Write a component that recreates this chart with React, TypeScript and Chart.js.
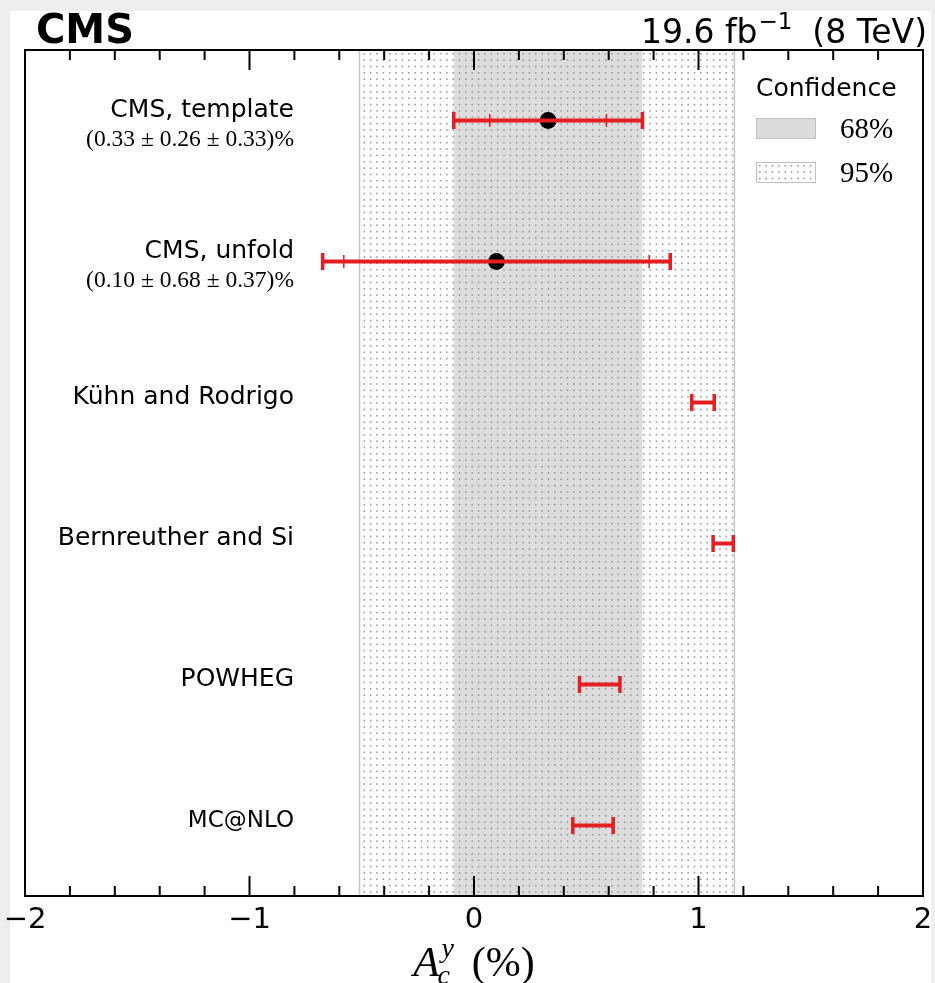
import React, { useEffect, useRef } from "react";
import { Chart, registerables } from "chart.js";

Chart.register(...registerables);

// ---------------- data ----------------
const rowLabels = ["CMS, template", "CMS, unfold", "Kühn and Rodrigo", "Bernreuther and Si", "POWHEG", "MC@NLO"];
const resultTexts = ["(0.33 ± 0.26 ± 0.33)%", "(0.10 ± 0.68 ± 0.37)%", "", "", "", ""];
const centralValues = [0.33, 0.1, 1.02, 1.11, 0.56, 0.53];
const statErrors = [0.26, 0.68, 0, 0, 0, 0];
const systErrors = [0.33, 0.37, 0, 0, 0, 0];
const theoryErrors = [0, 0, 0.05, 0.045, 0.09, 0.09];
const isMeasurement = [true, true, false, false, false, false];
const band68 = [-0.09, 0.75];
const band95 = [-0.51, 1.16];
const xTickValues = [-2, -1, 0, 1, 2];
const xTickLabels = ["−2", "−1", "0", "1", "2"];
const xMinorStep = 0.2;
const legendTitle = "Confidence";
const legendLabels = ["68%", "95%"];
const headerLeft = "CMS";
const lumiValue = "19.6 fb";
const lumiExp = "−1";
const energyText = "  (8 TeV)";
const axisTitle = { main: "A", sub: "c", sup: "y", unit: "(%)" };

const RED = "#e41e22";

const totalErrors = centralValues.map((_, i) =>
  isMeasurement[i] ? Math.sqrt(statErrors[i] ** 2 + systErrors[i] ** 2) : theoryErrors[i]
);

const SANS = "'DejaVu Sans'";
const SERIF = "'Liberation Serif'";
const DOT = "#9c9c9c";
const DOT_STEP = 6.35;

function drawDots(ctx: CanvasRenderingContext2D, x0: number, x1: number, y0: number, y1: number) {
  ctx.fillStyle = DOT;
  for (let yy = y0; yy < y1; yy += DOT_STEP) {
    for (let xx = x0; xx < x1; xx += DOT_STEP) {
      ctx.fillRect(xx, yy, 1.6, 1.6);
    }
  }
}

const customPlugin = {
  id: "customDraw",
  beforeDraw(chart: any) {
    const ctx = chart.ctx;
    ctx.save();
    ctx.fillStyle = "#eeeef0";
    ctx.fillRect(0, 0, chart.width, chart.height);
    ctx.fillStyle = "#ffffff";
    ctx.fillRect(10, 11, 921, chart.height - 11);
    ctx.restore();
  },
  beforeDatasetsDraw(chart: any) {
    const ctx = chart.ctx;
    const a = chart.chartArea;
    const x = chart.scales.x;
    const l95 = x.getPixelForValue(band95[0]);
    const r95 = x.getPixelForValue(band95[1]);
    const l68 = x.getPixelForValue(band68[0]);
    const r68 = x.getPixelForValue(band68[1]);
    ctx.save();
    ctx.fillStyle = "#dddddd";
    ctx.fillRect(l68, a.top, r68 - l68, a.bottom - a.top);
    drawDots(ctx, l95 + 4, r95 - 1, a.top + 3, a.bottom - 1);
    ctx.strokeStyle = "#c6c6c6";
    ctx.lineWidth = 1.5;
    ctx.beginPath();
    ctx.moveTo(l95, a.top);
    ctx.lineTo(l95, a.bottom);
    ctx.moveTo(r95, a.top);
    ctx.lineTo(r95, a.bottom);
    ctx.stroke();
    ctx.restore();
  },
  afterDraw(chart: any) {
    const ctx = chart.ctx;
    const a = chart.chartArea;
    const x = chart.scales.x;
    const y = chart.scales.y;
    ctx.save();

    // frame
    ctx.strokeStyle = "#000";
    ctx.lineWidth = 2;
    ctx.strokeRect(a.left, a.top, a.right - a.left, a.bottom - a.top);

    // ticks (inward, top & bottom)
    const nMin = Math.round(x.min / xMinorStep);
    const nMax = Math.round(x.max / xMinorStep);
    ctx.beginPath();
    for (let k = nMin; k <= nMax; k++) {
      const v = k * xMinorStep;
      const px = x.getPixelForValue(v);
      const major = Math.abs(v - Math.round(v)) < 1e-6;
      const len = major ? 20 : 10;
      ctx.moveTo(px, a.bottom);
      ctx.lineTo(px, a.bottom - len);
      ctx.moveTo(px, a.top);
      ctx.lineTo(px, a.top + len);
    }
    ctx.stroke();

    // tick labels
    ctx.fillStyle = "#000";
    ctx.font = `29px ${SANS}`;
    ctx.textAlign = "center";
    ctx.textBaseline = "alphabetic";
    xTickValues.forEach((v, i) => {
      ctx.fillText(xTickLabels[i], x.getPixelForValue(v), 928);
    });

    // axis title
    const cx = x.getPixelForValue(0);
    const base = 976;
    ctx.textAlign = "left";
    ctx.font = `italic 43px ${SERIF}`;
    const wA = ctx.measureText(axisTitle.main).width;
    ctx.font = `italic 28px ${SERIF}`;
    const wS = Math.max(ctx.measureText(axisTitle.sub).width, ctx.measureText(axisTitle.sup).width);
    ctx.font = `42px ${SERIF}`;
    const wU = ctx.measureText(axisTitle.unit).width;
    const gap = 20;
    const sx = cx - (wA + wS + gap + wU) / 2;
    ctx.font = `italic 43px ${SERIF}`;
    ctx.fillText(axisTitle.main, sx, base);
    ctx.font = `italic 28px ${SERIF}`;
    ctx.fillText(axisTitle.sup, sx + wA + 2, base - 19);
    ctx.fillText(axisTitle.sub, sx + wA - 2, base + 8);
    ctx.font = `42px ${SERIF}`;
    ctx.fillText(axisTitle.unit, sx + wA + wS + gap, base);

    // row labels
    ctx.textAlign = "right";
    const lx = 294;
    rowLabels.forEach((lab, i) => {
      const py = y.getPixelForValue(i);
      if (isMeasurement[i]) {
        ctx.font = `25px ${SANS}`;
        ctx.fillText(lab, lx, py - 4);
        ctx.font = `23.5px ${SERIF}`;
        ctx.fillText(resultTexts[i], lx, py + 25);
      } else {
        ctx.font = lab === "MC@NLO" ? `23px ${SANS}` : `25px ${SANS}`;
        ctx.fillText(lab, lx, py + 1);
      }
    });

    // legend
    ctx.textAlign = "left";
    ctx.font = `25px ${SANS}`;
    ctx.fillText(legendTitle, 756, 96);
    // 68 patch
    ctx.fillStyle = "#dcdcdc";
    ctx.fillRect(756, 118, 60, 21);
    ctx.strokeStyle = "#c2c2c2";
    ctx.lineWidth = 1;
    ctx.strokeRect(756.5, 118.5, 59, 20);
    // 95 patch
    ctx.fillStyle = "#ffffff";
    ctx.fillRect(756, 162, 60, 21);
    drawDots(ctx, 759, 814, 165, 181);
    ctx.strokeRect(756.5, 162.5, 59, 20);
    ctx.fillStyle = "#000";
    ctx.font = `29px ${SERIF}`;
    ctx.fillText(legendLabels[0], 840, 138);
    ctx.fillText(legendLabels[1], 840, 182);

    // header
    ctx.font = `bold 40px ${SANS}`;
    ctx.fillText(headerLeft, 36, 43);
    const right = 927;
    ctx.font = `33px ${SANS}`;
    const wE = ctx.measureText(energyText).width;
    const wL = ctx.measureText(lumiValue).width;
    ctx.font = `23px ${SANS}`;
    const wX = ctx.measureText(lumiExp).width;
    const hx = right - wE - wX - wL;
    ctx.font = `33px ${SANS}`;
    ctx.fillText(lumiValue, hx, 43);
    ctx.font = `23px ${SANS}`;
    ctx.fillText(lumiExp, hx + wL + 1, 29);
    ctx.font = `33px ${SANS}`;
    ctx.fillText(energyText, hx + wL + wX, 43);

    ctx.restore();
  },
};

export default function App() {
  const ref = useRef<HTMLCanvasElement | null>(null);
  useEffect(() => {
    document.body.style.margin = "0";
    const canvas = ref.current;
    if (!canvas) return;

    const datasets: any[] = [];
    // total error bars with caps
    centralValues.forEach((c, i) => {
      datasets.push({
        type: "scatter",
        showLine: true,
        data: [
          { x: c - totalErrors[i], y: i },
          { x: c + totalErrors[i], y: i },
        ],
        borderColor: RED,
        borderWidth: 4,
        pointStyle: "line",
        pointRotation: 90,
        pointRadius: 8.5,
        pointBorderWidth: 3.5,
        pointBorderColor: RED,
        pointBackgroundColor: RED,
        pointHoverRadius: 8.5,
      });
    });
    // stat ticks
    const statPts: any[] = [];
    centralValues.forEach((c, i) => {
      if (isMeasurement[i]) {
        statPts.push({ x: c - statErrors[i], y: i });
        statPts.push({ x: c + statErrors[i], y: i });
      }
    });
    datasets.push({
      type: "scatter",
      showLine: false,
      data: statPts,
      pointStyle: "line",
      pointRotation: 90,
      pointRadius: 6.5,
      pointBorderWidth: 1.5,
      pointBorderColor: RED,
      pointBackgroundColor: RED,
    });
    // central markers
    datasets.push({
      type: "scatter",
      showLine: false,
      data: centralValues
        .map((c, i) => (isMeasurement[i] ? { x: c, y: i } : null))
        .filter((p) => p !== null),
      pointStyle: "circle",
      pointRadius: 8.4,
      pointBorderWidth: 0,
      pointBackgroundColor: "#000",
      pointBorderColor: "#000",
    });

    const chart = new Chart(canvas, {
      type: "scatter",
      data: { datasets },
      options: {
        animation: false,
        responsive: false,
        devicePixelRatio: 1,
        events: [],
        layout: { padding: { left: 25, top: 50, right: 12, bottom: 87 } },
        scales: {
          x: { type: "linear", min: -2, max: 2, display: false },
          y: { type: "linear", min: -0.5, max: 5.5, reverse: true, display: false },
        },
        plugins: {
          legend: { display: false },
          tooltip: { enabled: false },
        },
      },
      plugins: [customPlugin],
    });
    return () => chart.destroy();
  }, []);

  return (
    <canvas
      ref={ref}
      width={935}
      height={983}
      style={{ display: "block", width: "935px", height: "983px" }}
    />
  );
}
